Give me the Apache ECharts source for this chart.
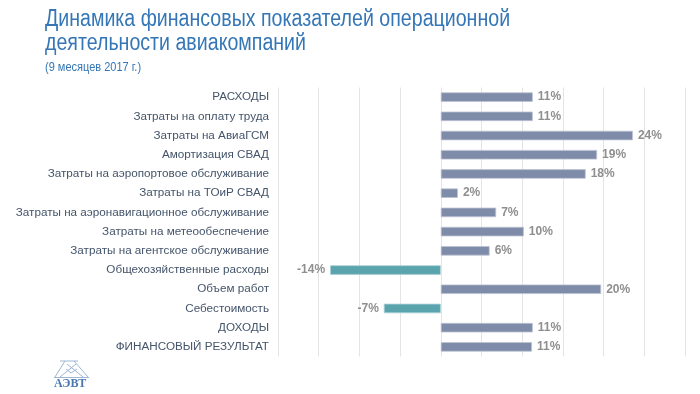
<!DOCTYPE html>
<html><head><meta charset="utf-8">
<script src="https://cdn.jsdelivr.net/npm/echarts@6/dist/echarts.min.js"></script>
<style>html,body{margin:0;padding:0;background:#fff}#c{width:700px;height:394px}</style>
</head><body><div id="c"></div>
<script>
const categories = [
  'РАСХОДЫ',
  'Затраты на оплату труда',
  'Затраты на АвиаГСМ',
  'Амортизация СВАД',
  'Затраты на аэропортовое обслуживание',
  'Затраты на ТОиР СВАД',
  'Затраты на аэронавигационное обслуживание',
  'Затраты на метеообеспечение',
  'Затраты на агентское обслуживание',
  'Общехозяйственные расходы',
  'Объем работ',
  'Себестоимость',
  'ДОХОДЫ',
  'ФИНАНСОВЫЙ РЕЗУЛЬТАТ'
];
const values = [11.3, 11.3, 23.6, 19.2, 17.8, 2.1, 6.8, 10.2, 6.0, -13.6, 19.7, -7.0, 11.3, 11.2];
const titleLines = ['Динамика финансовых показателей операционной', 'деятельности авиакомпаний'];
const subtitle = '(9 месяцев 2017 г.)';
const logoText = 'АЭВТ';

const trussColor = '#9db6d6';
function seg(pts) {
  return {type: 'polyline', shape: {points: pts}, style: {stroke: trussColor, lineWidth: 1, fill: null}, silent: true};
}

const chart = echarts.init(document.getElementById('c'), null, {renderer: 'canvas'});
chart.setOption({
  animation: false,
  backgroundColor: '#fff',
  grid: {left: 278, right: 15, top: 87.5, bottom: 37.5, containLabel: false},
  xAxis: {
    type: 'value', min: -20, max: 30, interval: 5,
    axisLabel: {show: false}, axisLine: {show: false}, axisTick: {show: false},
    splitLine: {show: true, lineStyle: {color: '#e4e4e4', width: 1}}
  },
  yAxis: {
    type: 'category', inverse: true, data: categories,
    axisLine: {show: false}, axisTick: {show: false},
    axisLabel: {margin: 9, color: '#44546a', fontFamily: 'Liberation Sans, Arial', fontSize: 11.7}
  },
  series: [{
    type: 'bar', barWidth: 9.5,
    data: values.map(v => ({
      value: v,
      itemStyle: {color: v < 0 ? '#5aa4ae' : '#7f8ca9', borderColor: v < 0 ? '#a9d0d6' : '#bcc3d2', borderWidth: 0.8},
      label: {position: v < 0 ? 'left' : 'right'}
    })),
    label: {
      show: true, distance: 5, color: '#8f8f8f', fontWeight: 'bold',
      fontFamily: 'Liberation Sans, Arial', fontSize: 12,
      formatter: p => Math.round(p.value) + '%'
    }
  }],
  graphic: [
    {type: 'text', x: 45, y: 7.7, scaleX: 0.852, style: {text: titleLines[0], fill: '#3476b6', font: '23px "Liberation Sans", Arial'}},
    {type: 'text', x: 45, y: 32, scaleX: 0.852, style: {text: titleLines[1], fill: '#3476b6', font: '23px "Liberation Sans", Arial'}},
    {type: 'text', x: 45, y: 61, scaleX: 0.88, style: {text: subtitle, fill: '#3476b6', font: '12.5px "Liberation Sans", Arial'}},
    seg([[60, 361], [78, 361]]),
    seg([[55, 377], [65, 361]]),
    seg([[88, 377], [74, 361]]),
    seg([[60, 377], [76, 364]]),
    seg([[83, 377], [67, 364]]),
    seg([[66, 369], [71, 373], [77, 369]]),
    seg([[54, 377.5], [89, 377.5]]),
    {type: 'text', x: 54, y: 378, style: {text: logoText, fill: '#4a78b0', font: 'bold 12px "Liberation Serif", serif'}}
  ]
});
</script></body></html>
